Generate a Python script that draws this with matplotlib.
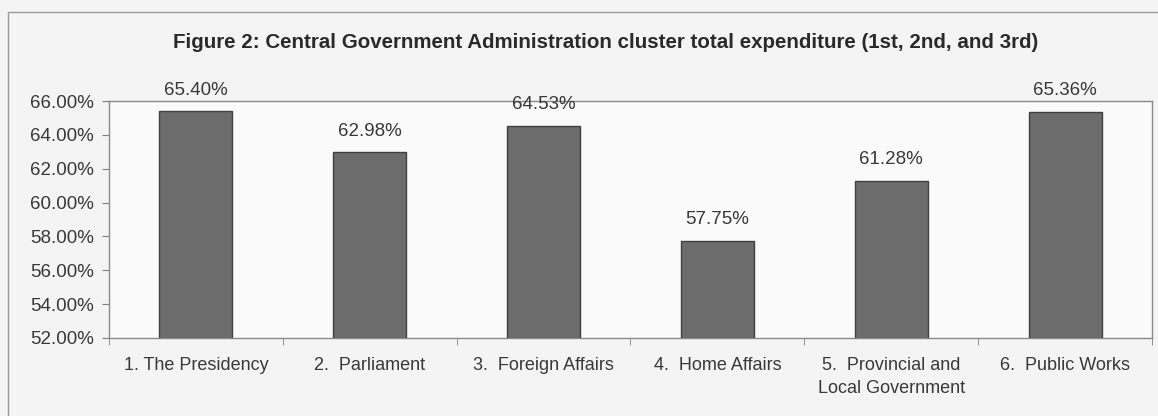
import matplotlib
matplotlib.use("Agg")
import matplotlib.pyplot as plt
from matplotlib.patches import Rectangle
from matplotlib.ticker import FuncFormatter, FixedLocator

plt.rcParams['font.family'] = ['Liberation Sans', 'DejaVu Sans']

departments = ["1. The Presidency", "2.  Parliament", "3.  Foreign Affairs",
               "4.  Home Affairs", "5.  Provincial and\nLocal Government",
               "6.  Public Works"]
spent_pct = [65.40, 62.98, 64.53, 57.75, 61.28, 65.36]
title = "Figure 2: Central Government Administration cluster total expenditure (1st, 2nd, and 3rd)"

W, H = 1158, 416
fig = plt.figure(figsize=(W / 100, H / 100), dpi=100, facecolor='#f4f4f4')
# plot area in pixel terms: left 109, right 1152, top 101, bottom 338
ax = fig.add_axes([109 / W, 1 - 338 / H, (1152 - 109) / W, (338 - 101) / H])
ax.set_facecolor('#fafafa')

# outer chart frame
fig.patches.append(Rectangle((8 / W, -0.1), 1.2, 1.1 - 12 / H, transform=fig.transFigure,
                             fill=False, edgecolor='#9a9a9a', linewidth=1.0))

x = list(range(len(departments)))
ax.bar(x, spent_pct, width=0.42, color='#6c6c6c', edgecolor='#404040', linewidth=1.0, zorder=3)

for xi, v in zip(x, spent_pct):
    ax.annotate("%.2f%%" % v, (xi, v), xytext=(0, 9), textcoords='offset points',
                ha='center', va='bottom', fontsize=13.5, color='#383838')

ax.set_xlim(-0.5, len(departments) - 0.5)
ax.set_ylim(52, 66)
ax.set_yticks([52, 54, 56, 58, 60, 62, 64, 66])
ax.yaxis.set_major_formatter(FuncFormatter(lambda v, p: "%.2f%%" % v))

ax.set_xticks(x)
ax.set_xticklabels(departments, fontsize=13, color='#383838', linespacing=1.45)
ax.xaxis.set_minor_locator(FixedLocator([i + 0.5 for i in range(-1, len(departments))]))
ax.tick_params(axis='x', which='major', length=0, pad=14)
ax.tick_params(axis='x', which='minor', length=5, color='#808080', direction='out')
ax.tick_params(axis='y', labelsize=13.5, labelcolor='#383838', length=5,
               color='#808080', pad=6)

for s in ax.spines.values():
    s.set_color('#8a8a8a')
    s.set_linewidth(1.0)

fig.text(606 / W, 1 - 42 / H, title, ha='center', va='center',
         fontsize=14.8, fontweight='bold', color='#2a2a2a')

fig.savefig("out.png", dpi=100, facecolor=fig.get_facecolor())
